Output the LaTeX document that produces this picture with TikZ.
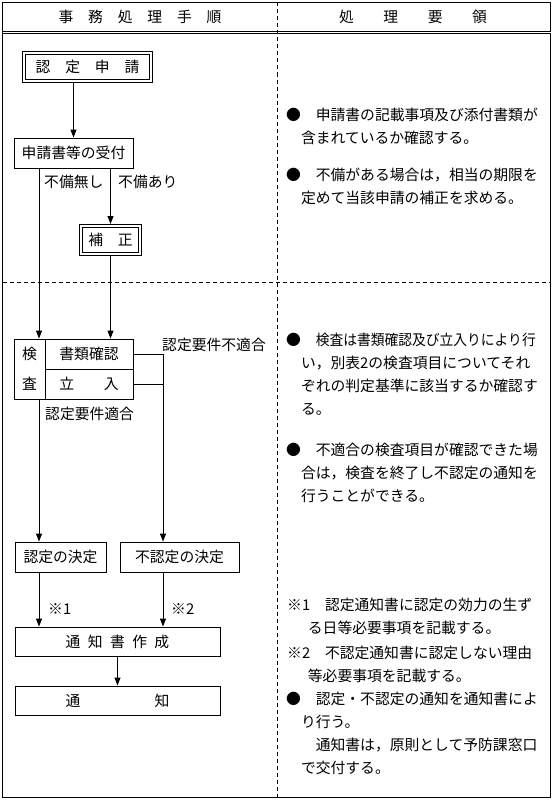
\documentclass[tikz,border=0pt]{standalone}
\usepackage{fontspec}
\setmainfont{Noto Sans CJK JP}
\usepackage{tikz}
\usetikzlibrary{arrows.meta}
\tikzstyle{stepbox} = [rectangle, draw, line width=0.9pt, minimum height=30pt, inner sep=0pt, text centered]
\tikzstyle{dblbox} = [rectangle, draw, double, double distance=1.6pt, line width=0.8pt, minimum height=28pt, inner sep=0pt, text centered]
\tikzstyle{arrow} = [line width=0.9pt, -{Triangle[width=6pt, length=8pt]}]
\tikzstyle{line} = [line width=0.9pt, -]
\tikzstyle{tag} = [anchor=west, inner sep=0pt]
\tikzstyle{note} = [anchor=north west, align=left, inner sep=0pt]
\tikzstyle{rule} = [line width=0.9pt, dash pattern=on 4pt off 3pt]
\newcommand{\hsp}{\hspace{0.5em}}

\begin{document}
\begin{tikzpicture}[x=1pt, y=-1pt, font=\fontsize{14.8}{23}\selectfont]
     \useasboundingbox (0, 0) rectangle (553, 800);
     % table frame
     \draw[line width=1.4pt] (2.5, 2.5) rectangle (550.5, 797.5);
     \draw[line width=0.8pt, double, double distance=1.6pt] (2.5, 32.5) -- (550.5, 32.5);
     \draw[rule] (277, 2.5) -- (277, 797.5);
     \draw[rule] (3, 282) -- (550, 282);
     \node (hdrL) at (140, 17) {事　務　処　理　手　順};
     \node (hdrR) at (413, 17) {処　　理　　要　　領};
     % flow
     \node (shinsei) at (87.5, 67) [dblbox, minimum width=127pt] {認　定　申　請};
     \node (uketsuke) at (73.5, 153) [stepbox, minimum width=119pt] {申請書等の受付};
     \node (hosei) at (110.5, 240) [dblbox, minimum width=59pt] {補　正};
     \node (kenL) at (29.5, 369) [stepbox, minimum width=31pt, minimum height=60pt, align=center, font=\fontsize{14.8}{30}\selectfont] {検\\査};
     \node (shorui) at (89, 354) [stepbox, minimum width=88pt] {書類確認};
     \node (tachiiri) at (89, 384) [stepbox, minimum width=88pt] {立　　入};
     \node (nintei) at (60.5, 557) [stepbox, minimum width=91pt] {認定の決定};
     \node (funintei) at (179.5, 557) [stepbox, minimum width=119pt] {不認定の決定};
     \node (tsuchisho) at (117.5, 641.5) [stepbox, minimum width=205pt, minimum height=29pt] {通\hsp 知\hsp 書\hsp 作\hsp 成};
     \node (tsuchi) at (117.5, 700.5) [stepbox, minimum width=205pt, minimum height=29pt] {通　　　　　知};
     \coordinate (colL) at (39, 0);
     \coordinate (colR) at (163, 0);
     \draw[arrow, shorten <=1.6pt] (shinsei.south -| uketsuke) -- (uketsuke.north);
     \draw[arrow] (uketsuke.south -| colL) -- (kenL.north -| colL);
     \draw[arrow, shorten >=1.6pt] (uketsuke.south -| hosei) -- (hosei.north);
     \draw[arrow, shorten <=1.6pt] (hosei.south) -- (shorui.north -| hosei);
     \draw[arrow] (shorui.east) -- (shorui.east -| colR) -- (funintei.north -| colR);
     \draw[line] (tachiiri.east) -- (tachiiri.east -| colR);
     \draw[arrow] (kenL.south -| colL) -- (nintei.north -| colL);
     \draw[arrow] (nintei.south -| colL) -- (tsuchisho.north -| colL);
     \draw[arrow] (funintei.south -| colR) -- (tsuchisho.north -| colR);
     \draw[arrow] (tsuchisho.south) -- (tsuchi.north);
     \node (mubi) at (44, 182) [tag] {不備無し};
     \node (aribi) at (118, 182) [tag] {不備あり};
     \node (futekigo) at (162, 345) [tag] {認定要件不適合};
     \node (tekigo) at (45, 414) [tag] {認定要件適合};
     \node (kome1) at (48, 609) [tag] {※1};
     \node (kome2) at (171, 609) [tag] {※2};
     % notes
     \node (note1) at (286, 108) [note] {●　申請書の記載事項及び添付書類が\\　含まれているか確認する。};
     \node (note2) at (286, 168) [note] {●　不備がある場合は，相当の期限を\\　定めて当該申請の補正を求める。};
     \node (note3) at (286, 333) [note] {●　\scalebox{0.93}[1]{検査は書類確認及び立入りにより行}\\　い，別表2の検査項目についてそれ\\　ぞれの判定基準に該当するか確認す\\　る。};
     \node (note4) at (286, 443) [note] {●　不適合の検査項目が確認できた場\\　合は，検査を終了し不認定の通知を\\　行うことができる。};
     \node (note5) at (287, 598) [note] {※1　認定通知書に認定の効力の生ず\\\hspace*{1.4em}る日等必要事項を記載する。};
     \node (note6) at (287, 646) [note] {※2　不認定通知書に認定しない理由\\\hspace*{1.4em}等必要事項を記載する。};
     \node (note7) at (286, 692) [note] {●　認定・不認定の通知を通知書によ\\　り行う。\\　　通知書は，原則として予防課窓口\\　で交付する。};
\end{tikzpicture}
\end{document}
